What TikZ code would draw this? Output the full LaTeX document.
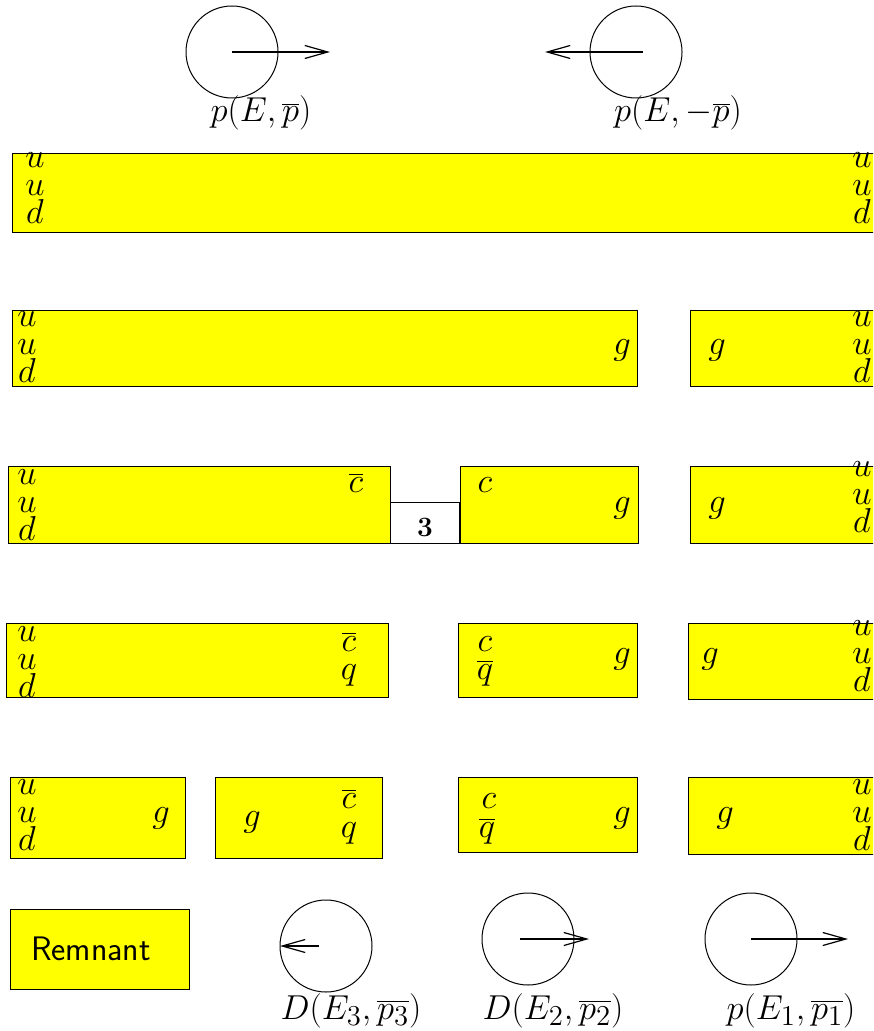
\documentclass[tikz,border=0pt]{standalone}
\usetikzlibrary{arrows.meta}
\definecolor{hadY}{RGB}{255,255,0}
\newcommand{\PX}{0.5pt}
\DeclareMathSizes{17.28}{17.28}{13.5}{10}

\begin{document}
\begin{tikzpicture}[
    x=\PX, y=-\PX,
    box/.style={draw=black, fill=hadY, line width=0.5pt, inner sep=0pt, anchor=north west},
    flv/.style={anchor=base, inner sep=0pt, font=\fontsize{16}{19}\selectfont},
    lab/.style={anchor=base, inner sep=0pt, font=\fontsize{17.28}{21}\selectfont},
    blob/.style={circle, draw=black, line width=0.5pt, minimum size=46pt, inner sep=0pt},
    mom/.style={line width=0.6pt, -{Straight Barb[length=11.5pt, width=6.5pt]}},
  ]

  \newcommand{\hadbox}[5]{% #1 name, #2 left, #3 top, #4 right, #5 bottom
    \node[box, minimum width={(#4-#2)*0.5pt}, minimum height={(#5-#3)*0.5pt}] (#1) at (#2,#3) {};}
  \newcommand{\UUD}[4]{% #1 name, #2 x, #3 first baseline, #4 step
    \foreach \f [count=\k] in {u,u,d} {
      \node[flv] (#1\k) at (#2,{#3+(\k-1)*#4}) {$\f$};
    }}

  \clip (0,0) rectangle (873,1031);

  % incoming protons
  \node[blob] (pA) at (232,52) {};
  \coordinate (pAt) at (330,52);
  \draw[mom] (pA.center) -- (pAt);
  \node[lab] (pAl) at (261,122) {$p(E,\overline{p})$};
  \node[blob] (pB) at (636,52) {};
  \coordinate (pBs) at (643,52);
  \coordinate (pBt) at (545,52);
  \draw[mom] (pBs) -- (pBt);
  \node[lab] (pBl) at (678,122) {$p(E,-\overline{p})$};

  % row 1
  \hadbox{r1}{12}{153}{885}{232}
  \UUD{r1L}{35}{168}{28}
  \UUD{r1R}{862}{168}{28}

  % row 2
  \hadbox{r2a}{12}{310}{637}{386}
  \UUD{r2L}{27}{327}{28}
  \node[flv] (r2g1) at (622,355) {$g$};
  \hadbox{r2b}{690}{310}{885}{386}
  \node[flv] (r2g2) at (717,355) {$g$};
  \UUD{r2R}{862}{327}{28}

  % row 3
  \hadbox{r3a}{8}{466}{390}{543}
  \UUD{r3L}{27}{484}{28}
  \node[flv] (r3cb) at (356,492) {$\overline{c}$};
  \node[box, fill=white, minimum width=34.5pt, minimum height=20.5pt] (r3w) at (390,502) {};
  \node[inner sep=0pt, anchor=base, font=\bfseries\fontsize{14}{16}\selectfont] (r3n) at (425,536) {3};
  \hadbox{r3b}{460}{466}{638}{543}
  \node[flv] (r3c) at (485,492) {$c$};
  \node[flv] (r3g1) at (622,512) {$g$};
  \hadbox{r3c}{690}{466}{885}{543}
  \node[flv] (r3g2) at (717,512) {$g$};
  \UUD{r3R}{862}{476}{28}

  % row 4
  \hadbox{r4a}{6}{623}{388}{697}
  \UUD{r4L}{27}{641}{28}
  \node[flv] (r4cb) at (349,651) {$\overline{c}$};
  \node[flv] (r4q) at (349,679) {$q$};
  \hadbox{r4b}{458}{623}{637}{697}
  \node[flv] (r4c) at (485,651) {$c$};
  \node[flv] (r4qb) at (485,679) {$\overline{q}$};
  \node[flv] (r4g1) at (622,663) {$g$};
  \hadbox{r4c}{688}{623}{885}{699}
  \node[flv] (r4g2) at (710,663) {$g$};
  \UUD{r4R}{862}{635}{28}

  % row 5
  \hadbox{r5a}{10}{777}{185}{858}
  \UUD{r5L}{27}{794}{28}
  \node[flv] (r5g1) at (161,822) {$g$};
  \hadbox{r5b}{215}{777}{382}{858}
  \node[flv] (r5g2) at (252,826) {$g$};
  \node[flv] (r5cb) at (349,808) {$\overline{c}$};
  \node[flv] (r5q) at (349,837) {$q$};
  \hadbox{r5c}{458}{777}{637}{852}
  \node[flv] (r5c) at (489,808) {$c$};
  \node[flv] (r5qb) at (487,837) {$\overline{q}$};
  \node[flv] (r5g3) at (622,822) {$g$};
  \hadbox{r5d}{688}{777}{885}{854}
  \node[flv] (r5g4) at (725,822) {$g$};
  \UUD{r5R}{862}{794}{28}

  % final state
  \hadbox{rem}{10}{909}{189}{989}
  \node[inner sep=0pt, anchor=base, font=\sffamily\fontsize{17}{20}\selectfont] (remt) at (91,960) {Remnant};
  \node[blob] (D3) at (326,946) {};
  \coordinate (D3s) at (319,946);
  \coordinate (D3t) at (280,946);
  \draw[mom] (D3s) -- (D3t);
  \node[lab] (D3l) at (351,1019) {$D(E_3,\overline{p_3})$};
  \node[blob] (D2) at (528,939) {};
  \coordinate (D2s) at (520,939);
  \coordinate (D2t) at (589,939);
  \draw[mom] (D2s) -- (D2t);
  \node[lab] (D2l) at (553,1019) {$D(E_2,\overline{p_2})$};
  \node[blob] (p1) at (751,939) {};
  \coordinate (p1t) at (848,939);
  \draw[mom] (p1.center) -- (p1t);
  \node[lab] (p1l) at (791,1019) {$p(E_1,\overline{p_1})$};

\end{tikzpicture}
\end{document}
